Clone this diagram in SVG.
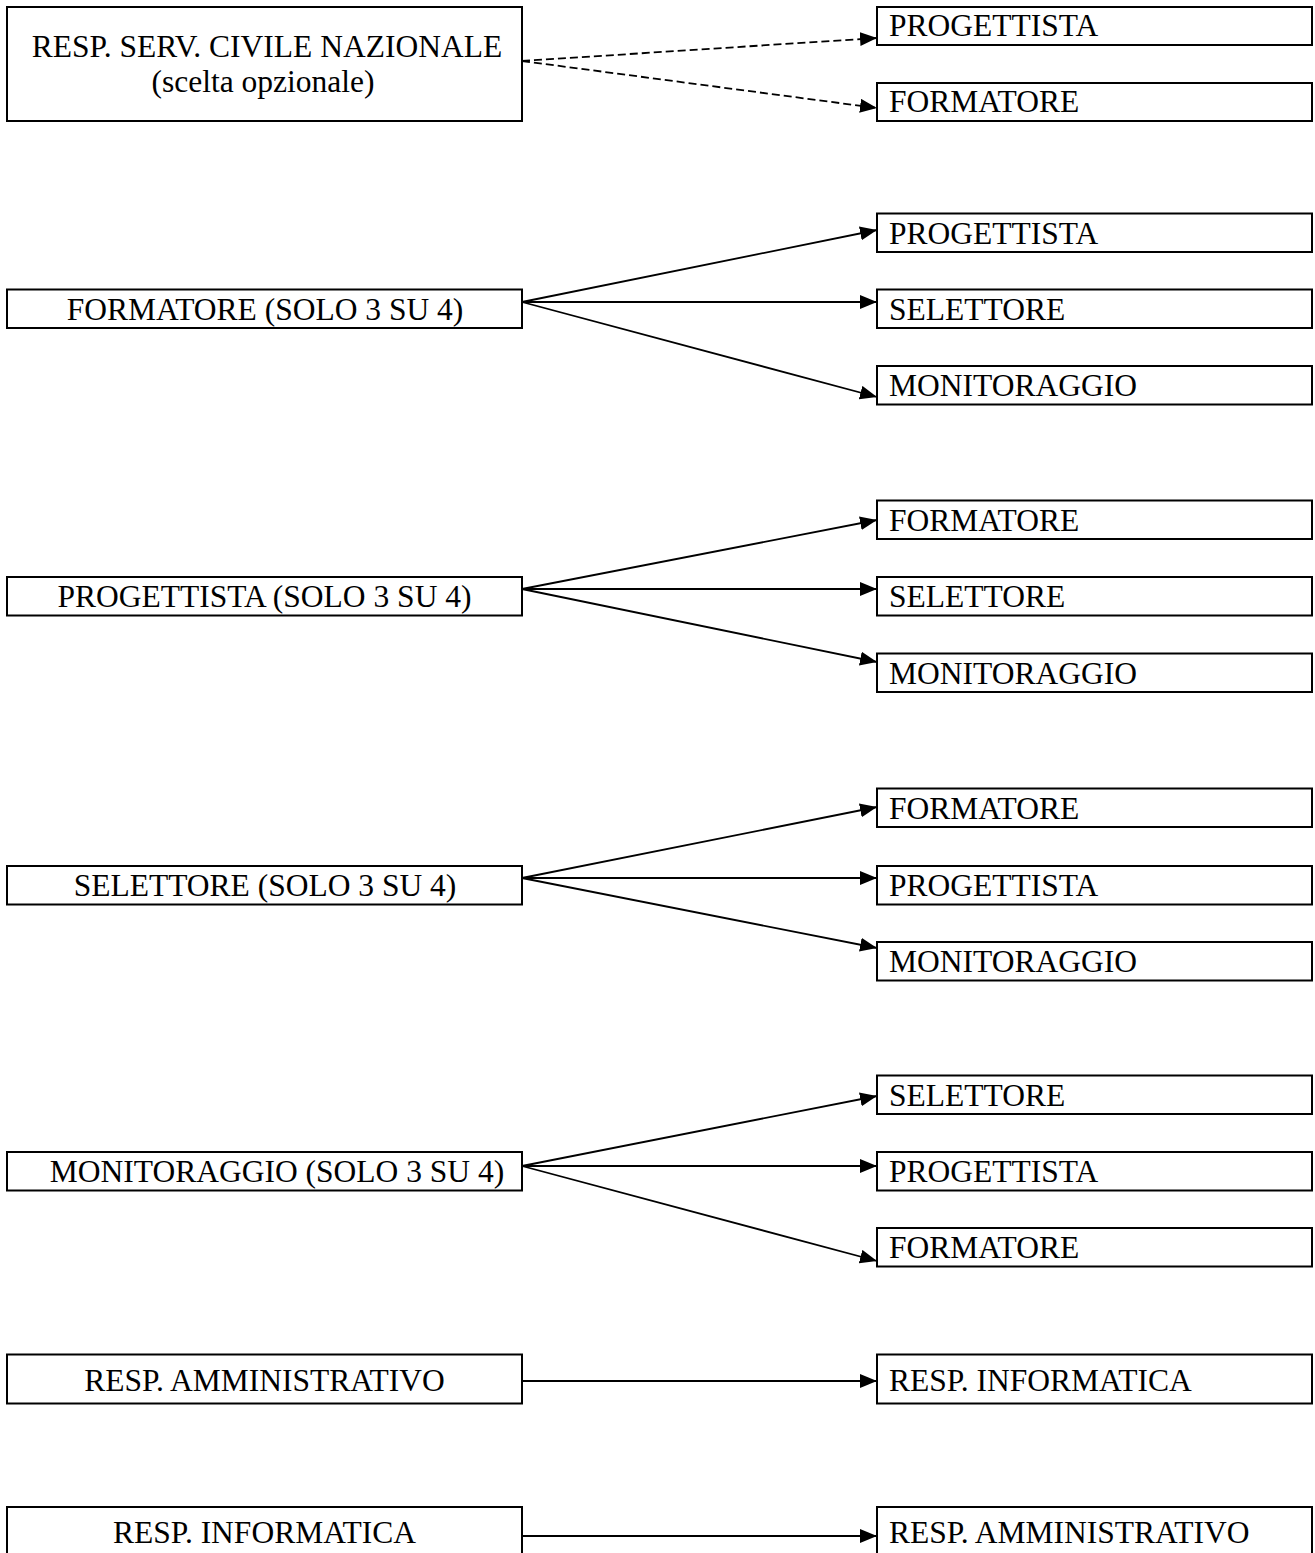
<svg xmlns="http://www.w3.org/2000/svg" width="1315" height="1553" viewBox="0 0 1315 1553">
<style>
.box{fill:#fff;stroke:#000;stroke-width:2}
.t{font-family:"Liberation Serif","Times New Roman",serif;font-size:31.5px;fill:#000}
.c{text-anchor:middle}
.e{fill:none;stroke:#000;stroke-width:1.8}
.d{stroke-dasharray:8 4}
</style>
<defs>
<marker id="ah" markerUnits="userSpaceOnUse" markerWidth="18" markerHeight="15" refX="17" refY="7" orient="auto" viewBox="0 0 18 15">
<path d="M0,0 L17,7 L0,14 z" fill="#000"/>
</marker>
</defs>
<rect width="1315" height="1553" fill="#fff"/>
<g id="connectors">
<line class="e d" x1="522" y1="61" x2="877" y2="38" marker-end="url(#ah)"/>
<line class="e d" x1="522" y1="61" x2="877" y2="108" marker-end="url(#ah)"/>
<line class="e" x1="522" y1="302" x2="877" y2="230" marker-end="url(#ah)"/>
<line class="e" x1="522" y1="302" x2="877" y2="302" marker-end="url(#ah)"/>
<line class="e" x1="522" y1="302" x2="877" y2="397" marker-end="url(#ah)"/>
<line class="e" x1="522" y1="589" x2="877" y2="520" marker-end="url(#ah)"/>
<line class="e" x1="522" y1="589" x2="877" y2="589" marker-end="url(#ah)"/>
<line class="e" x1="522" y1="589" x2="877" y2="662" marker-end="url(#ah)"/>
<line class="e" x1="522" y1="878" x2="877" y2="807" marker-end="url(#ah)"/>
<line class="e" x1="522" y1="878" x2="877" y2="878" marker-end="url(#ah)"/>
<line class="e" x1="522" y1="878" x2="877" y2="948" marker-end="url(#ah)"/>
<line class="e" x1="522" y1="1166" x2="877" y2="1096" marker-end="url(#ah)"/>
<line class="e" x1="522" y1="1166" x2="877" y2="1166" marker-end="url(#ah)"/>
<line class="e" x1="522" y1="1166" x2="877" y2="1261" marker-end="url(#ah)"/>
<line class="e" x1="522" y1="1381" x2="877" y2="1381" marker-end="url(#ah)"/>
<line class="e" x1="522" y1="1536" x2="877" y2="1536" marker-end="url(#ah)"/>
</g>
<g id="n-resp-serv"><rect class="box" x="7" y="7" width="515" height="114"/><text class="t c" x="267" y="57">RESP. SERV. CIVILE NAZIONALE</text><text class="t c" x="263" y="92">(scelta opzionale)</text></g>
<g id="n1-prog"><rect class="box" x="877" y="7" width="435" height="38"/><text class="t" x="889" y="36">PROGETTISTA</text></g>
<g id="n1-form"><rect class="box" x="877" y="83" width="435" height="38"/><text class="t" x="889" y="112">FORMATORE</text></g>

<g id="n-formatore"><rect class="box" x="7" y="289.5" width="515" height="38.5"/><text class="t c" x="265" y="320">FORMATORE (SOLO 3 SU 4)</text></g>
<g id="n2-prog"><rect class="box" x="877" y="213.5" width="435" height="38.5"/><text class="t" x="889" y="243.5">PROGETTISTA</text></g>
<g id="n2-sel"><rect class="box" x="877" y="289.5" width="435" height="38.5"/><text class="t" x="889" y="319.5">SELETTORE</text></g>
<g id="n2-mon"><rect class="box" x="877" y="366" width="435" height="38.5"/><text class="t" x="889" y="395.5">MONITORAGGIO</text></g>

<g id="n-progettista"><rect class="box" x="7" y="577" width="515" height="38.5"/><text class="t c" x="264.5" y="607">PROGETTISTA (SOLO 3 SU 4)</text></g>
<g id="n3-form"><rect class="box" x="877" y="500.5" width="435" height="38.5"/><text class="t" x="889" y="530.5">FORMATORE</text></g>
<g id="n3-sel"><rect class="box" x="877" y="577" width="435" height="38.5"/><text class="t" x="889" y="607">SELETTORE</text></g>
<g id="n3-mon"><rect class="box" x="877" y="653.5" width="435" height="38.5"/><text class="t" x="889" y="683.5">MONITORAGGIO</text></g>

<g id="n-selettore"><rect class="box" x="7" y="866" width="515" height="38.5"/><text class="t c" x="265" y="896">SELETTORE (SOLO 3 SU 4)</text></g>
<g id="n4-form"><rect class="box" x="877" y="788.5" width="435" height="38.5"/><text class="t" x="889" y="818.5">FORMATORE</text></g>
<g id="n4-prog"><rect class="box" x="877" y="866" width="435" height="38.5"/><text class="t" x="889" y="896">PROGETTISTA</text></g>
<g id="n4-mon"><rect class="box" x="877" y="942" width="435" height="38.5"/><text class="t" x="889" y="972">MONITORAGGIO</text></g>

<g id="n-monitoraggio"><rect class="box" x="7" y="1152" width="515" height="38.5"/><text class="t c" x="277" y="1182">MONITORAGGIO (SOLO 3 SU 4)</text></g>
<g id="n5-sel"><rect class="box" x="877" y="1075.5" width="435" height="38.5"/><text class="t" x="889" y="1105.5">SELETTORE</text></g>
<g id="n5-prog"><rect class="box" x="877" y="1152" width="435" height="38.5"/><text class="t" x="889" y="1182">PROGETTISTA</text></g>
<g id="n5-form"><rect class="box" x="877" y="1228" width="435" height="38.5"/><text class="t" x="889" y="1258">FORMATORE</text></g>

<g id="n-amm"><rect class="box" x="7" y="1354.5" width="515" height="49"/><text class="t c" x="264.5" y="1391">RESP. AMMINISTRATIVO</text></g>
<g id="n6-inf"><rect class="box" x="877" y="1354.5" width="435" height="49"/><text class="t" x="889" y="1391">RESP. INFORMATICA</text></g>

<g id="n-inf"><rect class="box" x="7" y="1507" width="515" height="49"/><text class="t c" x="264.5" y="1543">RESP. INFORMATICA</text></g>
<g id="n7-amm"><rect class="box" x="877" y="1507" width="435" height="49"/><text class="t" x="889" y="1543">RESP. AMMINISTRATIVO</text></g>
</svg>
